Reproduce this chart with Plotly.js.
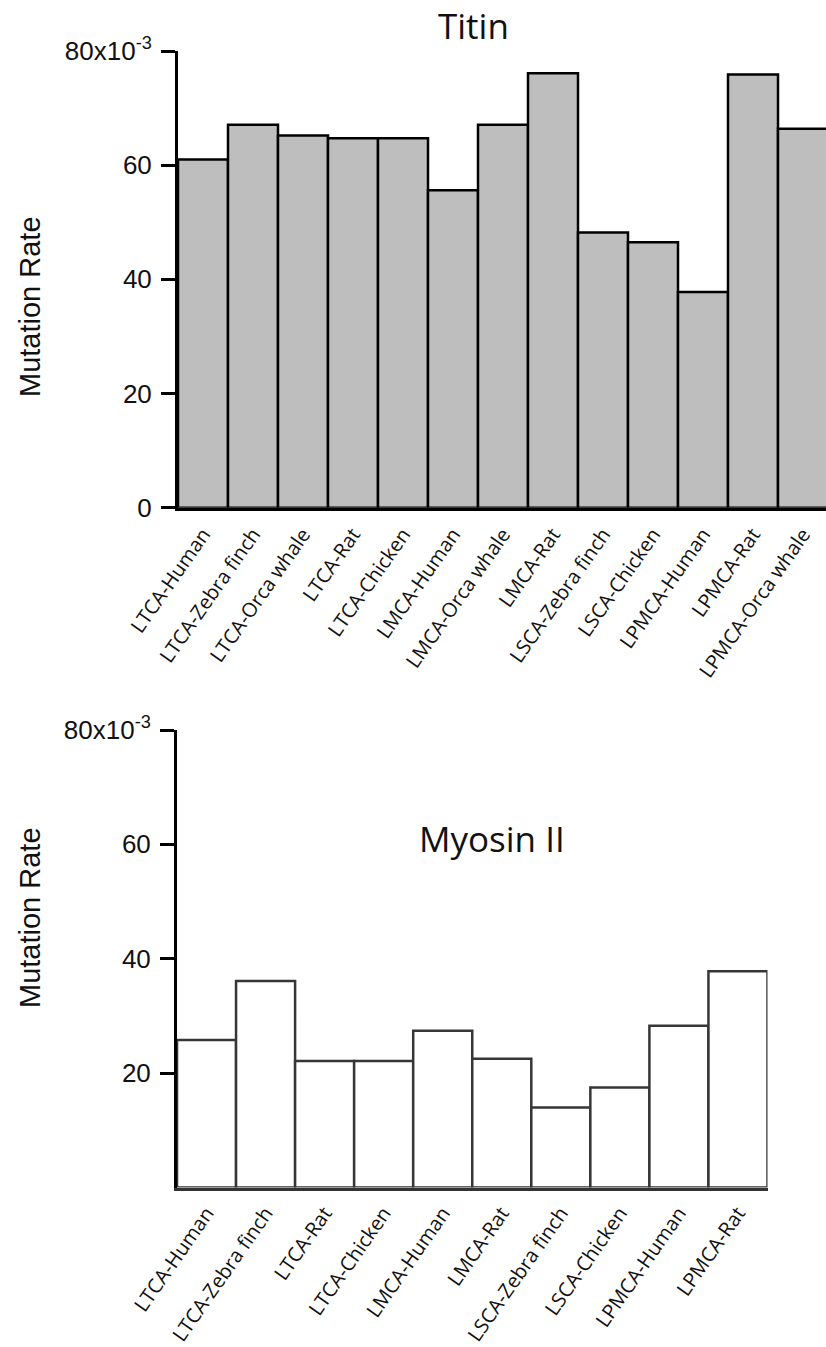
<!DOCTYPE html>
<html>
<head>
<meta charset="utf-8">
<script src="https://cdn.plot.ly/plotly-3.0.1.min.js"></script>
<style>
  html, body { margin: 0; padding: 0; background: #ffffff; }
  #chart { width: 826px; height: 1347px; }
</style>
</head>
<body>
<div id="chart"></div>
<script>
// Titin mutation rates (units of 10^-3)
const titinLabels = [
  "LTCA-Human", "LTCA-Zebra finch", "LTCA-Orca whale", "LTCA-Rat", "LTCA-Chicken",
  "LMCA-Human", "LMCA-Orca whale", "LMCA-Rat", "LSCA-Zebra finch", "LSCA-Chicken",
  "LPMCA-Human", "LPMCA-Rat", "LPMCA-Orca whale"
];
const titinRates = [61.0, 67.1, 65.2, 64.7, 64.7, 55.6, 67.1, 76.1, 48.2, 46.5, 37.8, 75.9, 66.4];

// Myosin II mutation rates (units of 10^-3)
const myosinLabels = [
  "LTCA-Human", "LTCA-Zebra finch", "LTCA-Rat", "LTCA-Chicken", "LMCA-Human",
  "LMCA-Rat", "LSCA-Zebra finch", "LSCA-Chicken", "LPMCA-Human", "LPMCA-Rat"
];
const myosinRates = [25.8, 36.1, 22.1, 22.1, 27.4, 22.5, 14.0, 17.5, 28.3, 37.8];

// y tick labels for each panel
const titinTickVals = [0, 20, 40, 60, 80];
const titinTickText = ["0", "20", "40", "60", "80x10<sup>-3</sup>"];
const myosinTickVals = [20, 40, 60, 80];
const myosinTickText = ["20", "40", "60", "80x10<sup>-3</sup>"];

const W = 826, H = 1347;
const px = v => v / W;          // horizontal pixel -> paper
const py = v => 1 - v / H;      // vertical pixel -> paper

const numFont = { family: "Liberation Sans, Arial, sans-serif", size: 26, color: "#111111" };
const catFont = { family: "Open Sans, sans-serif", size: 20, color: "#111111" };
const titleFont = { family: "Open Sans, sans-serif", size: 35, color: "#111111" };
const axTitleFont = { family: "Liberation Sans, Arial, sans-serif", size: 29, color: "#111111" };

const traces = [
  {
    type: "bar",
    x: titinLabels.map((_, i) => i),
    y: titinRates,
    xaxis: "x", yaxis: "y",
    marker: { color: "#bebebe", line: { color: "#000000", width: 2.5 } },
    hoverinfo: "skip"
  },
  {
    type: "bar",
    x: myosinLabels.map((_, i) => i),
    y: myosinRates,
    xaxis: "x2", yaxis: "y2",
    marker: { color: "#ffffff", line: { color: "#363636", width: 2.5 } },
    hoverinfo: "skip"
  }
];

const layout = {
  width: W, height: H,
  margin: { l: 0, r: 0, t: 0, b: 0 },
  paper_bgcolor: "#ffffff",
  plot_bgcolor: "rgba(0,0,0,0)",
  showlegend: false,
  bargap: 0,
  xaxis: {
    domain: [px(178), 1],
    range: [-0.5, 12.46],
    anchor: "y",
    tickmode: "array",
    tickvals: titinLabels.map((_, i) => i),
    ticktext: titinLabels,
    tickangle: -55,
    tickfont: catFont,
    ticks: "",
    showline: true, linecolor: "#000000", linewidth: 3,
    showgrid: false, zeroline: false,
    ticklabelstandoff: 4
  },
  yaxis: {
    domain: [py(507.7), py(51)],
    range: [0, 80],
    anchor: "x",
    tickmode: "array",
    tickvals: titinTickVals,
    ticktext: titinTickText,
    tickfont: numFont,
    ticks: "outside", ticklen: 14, tickwidth: 3, tickcolor: "#000000",
    showline: true, linecolor: "#000000", linewidth: 3,
    showgrid: false, zeroline: false,
    ticklabelstandoff: 4
  },
  xaxis2: {
    domain: [px(177), px(767.5)],
    range: [-0.5, 9.5],
    anchor: "y2",
    tickmode: "array",
    tickvals: myosinLabels.map((_, i) => i),
    ticktext: myosinLabels,
    tickangle: -55,
    tickfont: catFont,
    ticks: "",
    showline: true, linecolor: "#333333", linewidth: 3,
    showgrid: false, zeroline: false,
    ticklabelstandoff: 3
  },
  yaxis2: {
    domain: [py(1187.5), py(730)],
    range: [0, 80],
    anchor: "x2",
    tickmode: "array",
    tickvals: myosinTickVals,
    ticktext: myosinTickText,
    tickfont: numFont,
    ticks: "outside", ticklen: 14, tickwidth: 3, tickcolor: "#000000",
    showline: true, linecolor: "#000000", linewidth: 3,
    showgrid: false, zeroline: false,
    ticklabelstandoff: 4
  },
  annotations: [
    {
      text: "Titin", xref: "paper", yref: "paper",
      x: px(473), y: py(25), xanchor: "center", yanchor: "middle",
      showarrow: false, font: titleFont
    },
    {
      text: "Myosin II", xref: "paper", yref: "paper",
      x: px(492), y: py(838), xanchor: "center", yanchor: "middle",
      showarrow: false, font: titleFont
    },
    {
      text: "Mutation Rate", xref: "paper", yref: "paper",
      x: px(30), y: py(307), xanchor: "center", yanchor: "middle",
      textangle: -90, showarrow: false, font: axTitleFont
    },
    {
      text: "Mutation Rate", xref: "paper", yref: "paper",
      x: px(30), y: py(918), xanchor: "center", yanchor: "middle",
      textangle: -90, showarrow: false, font: axTitleFont
    }
  ]
};

Plotly.newPlot("chart", traces, layout, { staticPlot: true, displayModeBar: false });
</script>
</body>
</html>
